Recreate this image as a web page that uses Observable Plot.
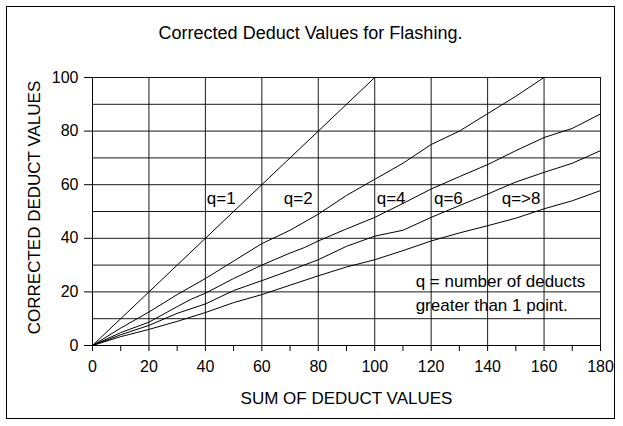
<!DOCTYPE html>
<html><head><meta charset="utf-8">
<script src="https://cdn.jsdelivr.net/npm/d3@7"></script>
<script src="https://cdn.jsdelivr.net/npm/@observablehq/plot@0.6"></script>
<style>
body{margin:0;background:#fff;}
#wrap{position:relative;width:623px;height:426px;}
#border{position:absolute;left:6px;top:6px;width:607px;height:411px;border:1px solid #000;pointer-events:none;}
</style></head><body>
<div id="wrap"><div id="border"></div></div>
<script>
// Series: sum of deduct values (x) and corrected deduct values (y)
const q1X = [0, 20, 40, 60, 80, 100];
const q1Y = [0, 20, 40, 60, 80, 100];
const q2X = [0, 10, 20, 30, 40, 50, 60, 70, 80, 90, 100, 110, 120, 130, 140, 150, 160];
const q2Y = [0, 6.5, 12.5, 19, 25, 31.5, 38, 43, 49, 56, 62, 68, 75, 80, 86.5, 93, 100];
const q4X = [0, 10, 20, 30, 35, 40, 50, 60, 70, 75, 80, 90, 100, 110, 120, 130, 140, 150, 160, 170, 180];
const q4Y = [0, 4.8, 8.7, 14.5, 17.3, 19.5, 25, 30, 34.5, 36.5, 39, 43.5, 47.8, 53, 58.4, 63, 67.5, 72.7, 77.6, 81, 86.4];
const q6X = [0, 10, 20, 30, 40, 50, 60, 70, 80, 90, 100, 110, 120, 130, 140, 150, 160, 170, 180];
const q6Y = [0, 4, 7.5, 12, 15.5, 20.5, 24.2, 28, 32, 37, 40.8, 43, 47.8, 52.2, 56.5, 61, 64.6, 68, 72.7];
const q8X = [0, 10, 20, 30, 40, 50, 60, 70, 80, 90, 100, 110, 120, 130, 140, 150, 160, 170, 180];
const q8Y = [0, 3.3, 6, 9, 12.3, 16, 19, 22.5, 26, 29.3, 32, 35.4, 39, 42, 44.7, 47.5, 51, 54, 57.8];

const seriesNames = ["q=1", "q=2", "q=4", "q=6", "q=>8"];
const seriesX = [q1X, q2X, q4X, q6X, q8X];
const seriesY = [q1Y, q2Y, q4Y, q6Y, q8Y];

// Curve labels (data coordinates)
const labelX = [40.5, 67.8, 100.7, 121, 145];
const labelY = [55, 55, 55, 55, 55];

// Axis ticks
const xTickValues = [0, 20, 40, 60, 80, 100, 120, 140, 160, 180];
const xMinorTicks = [10, 30, 50, 70, 90, 110, 130, 150, 170];
const yTickValues = [0, 20, 40, 60, 80, 100];
const yGridValues = [0, 10, 20, 30, 40, 50, 60, 70, 80, 90, 100];

const titleText = "Corrected Deduct Values for Flashing.";
const xTitle = "SUM OF DEDUCT VALUES";
const yTitle = "CORRECTED DEDUCT VALUES";
const noteLines = ["q = number of deducts", "greater than 1 point."];
const noteX = [114.5, 114.5];
const noteY = [24, 15];

const rows = seriesNames.flatMap((q, i) => seriesX[i].map((x, j) => ({q, x, y: seriesY[i][j]})));
const labels = seriesNames.map((t, i) => ({t, x: labelX[i], y: labelY[i]}));
const notes = noteLines.map((t, i) => ({t, x: noteX[i], y: noteY[i]}));

const font = "'Liberation Sans', Arial, sans-serif";

const chart = Plot.plot({
  width: 623,
  height: 426,
  marginLeft: 92,
  marginRight: 23,
  marginTop: 77,
  marginBottom: 81,
  style: {fontFamily: font, fontSize: "16px", color: "#000", background: "transparent", overflow: "visible"},
  x: {domain: [0, 180]},
  y: {domain: [0, 100]},
  marks: [
    Plot.gridY(yGridValues, {stroke: "#000", strokeOpacity: 0.9}),
    Plot.gridX(xTickValues, {stroke: "#000", strokeOpacity: 0.9}),
    Plot.axisY(yTickValues, {tickSize: 8, tickPadding: 6, label: null, fontSize: 16}),
    Plot.axisX(xMinorTicks, {tickSize: 6, text: null, label: null}),
    Plot.axisX(xTickValues, {tickSize: 6, tickPadding: 9, label: null, fontSize: 16}),
    Plot.ruleY([0], {stroke: "#000"}),
    Plot.ruleX([0], {stroke: "#000"}),
    Plot.line(rows, {x: "x", y: "y", z: "q", stroke: "#000", strokeWidth: 1}),
    Plot.text(labels, {x: "x", y: "y", text: "t", textAnchor: "start", fontSize: 17, fill: "#000"}),
    Plot.text(notes, {x: "x", y: "y", text: "t", textAnchor: "start", fontSize: 17, fill: "#000"}),
    Plot.text([titleText], {frameAnchor: "top", textAnchor: "middle", lineAnchor: "middle", dy: -44, dx: -36, fontSize: 18, fill: "#000"}),
    Plot.text([xTitle], {frameAnchor: "bottom", textAnchor: "middle", lineAnchor: "middle", dy: 53, fontSize: 17, fill: "#000"}),
    Plot.text([yTitle], {frameAnchor: "left", textAnchor: "middle", lineAnchor: "middle", dx: -58, dy: -4, rotate: -90, fontSize: 17, fill: "#000"})
  ]
});
chart.style.position = "absolute";
chart.style.left = "0px";
chart.style.top = "0px";
document.getElementById("wrap").appendChild(chart);
</script>
</body></html>
